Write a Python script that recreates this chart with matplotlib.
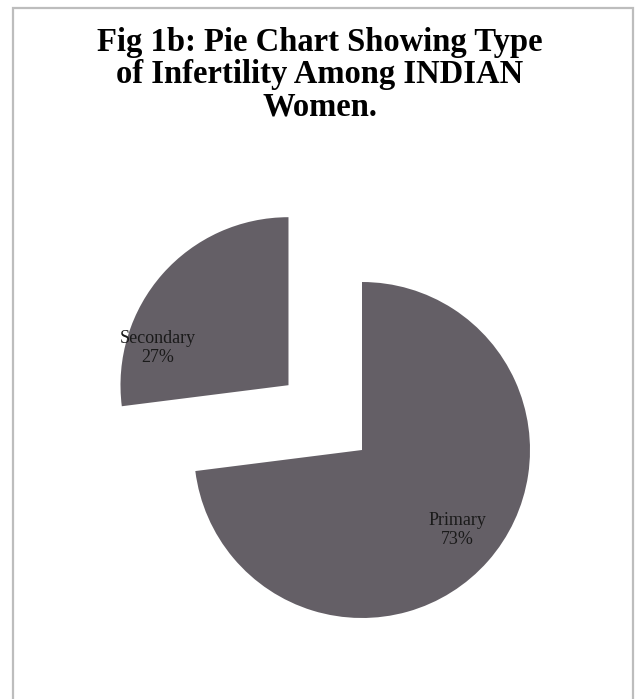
import matplotlib.pyplot as plt
from matplotlib.patches import Rectangle

# data
categories = ["Primary", "Secondary"]
shares = [73, 27]
pct_labels = ["73%", "27%"]
explode_px = [0, 98]

title = "Fig 1b: Pie Chart Showing Type\nof Infertility Among INDIAN\nWomen."
slice_color = "#645f66"

W, H = 637, 699
fig = plt.figure(figsize=(W / 100, H / 100), dpi=100)
ax = fig.add_axes([0, 0, 1, 1])

# outer frame (bottom edge runs off the image)
ax.add_patch(Rectangle((13, -5), 620, H - 8 + 5, fill=False,
                       edgecolor="#bdbdbd", linewidth=1.6))

center = (362, H - 450)
radius = 168
wedges, _ = ax.pie(shares, explode=explode_px, startangle=90, counterclock=False,
                   colors=[slice_color] * len(shares), center=center, radius=radius,
                   wedgeprops=dict(linewidth=0), frame=True)
ax.set_xlim(0, W)
ax.set_ylim(0, H)
ax.set_aspect("equal")
ax.axis("off")

ax.text(320, H - 115, title, ha="center", va="baseline", fontsize=23.5,
        fontweight="bold", family="Liberation Serif", linespacing=1.04)

label_pos = {"Primary": (457, H - 530), "Secondary": (158, H - 348)}
for cat, pct in zip(categories, pct_labels):
    x, y = label_pos[cat]
    ax.text(x, y, f"{cat}\n{pct}", ha="center", va="center", fontsize=13,
            family="Liberation Serif", color="#1a1a1a", linespacing=1.1)

fig.savefig("out.png", dpi=100)
